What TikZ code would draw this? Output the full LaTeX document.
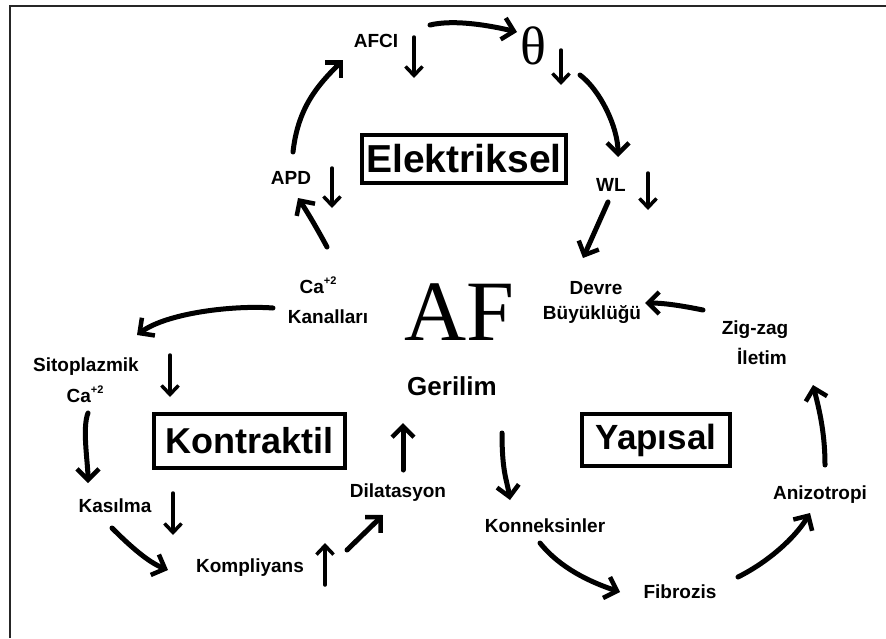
\documentclass[tikz,border=0pt]{standalone}
\usepackage{fontspec}
\setmainfont{Liberation Sans}
\newfontfamily\serifAF{Liberation Serif}
\usetikzlibrary{arrows.meta,calc}
\begin{document}
\begin{tikzpicture}[x=1pt,y=-1pt,
 lbl/.style={font=\fontsize{19}{22}\selectfont\bfseries, inner sep=0pt},
 boxlbl/.style={draw, line width=3.5pt, inner sep=0pt},
 big/.style={line width=5pt, line cap=round, -{Straight Barb[length=11pt,width=22pt,line width=4.5pt]}},
 small/.style={line width=3.5pt, line cap=round, -{Straight Barb[length=9pt,width=17pt,line width=3.5pt]}},
]
\useasboundingbox (0,0) rectangle (886,638);
\fill[white] (0,0) rectangle (886,638);
\draw[line width=2pt, black!85] (10,638) -- (10,6) -- (886,6);

% nodes
\node[lbl] (afci) at (376,41) {AFCI};
\node[inner sep=0pt, font=\serifAF\fontsize{54}{54}\selectfont] (theta) at (533,46) {θ};
\node[lbl] (wl) at (611,185) {WL};
\node[lbl] (apd) at (291,178) {APD};
\node[boxlbl, minimum width=204pt, minimum height=48pt, font=\fontsize{39}{42}\selectfont\bfseries] (elek) at (464,159) {Elektriksel};
\node[lbl] (ca1) at (318,285) {Ca\raisebox{0.45em}{\fontsize{11}{11}\selectfont +2}};
\node[lbl] (kan) at (328,317) {Kanalları};
\node[lbl] (sito) at (86,367) {Sitoplazmik};
\node[lbl] (ca2) at (85,394) {Ca\raisebox{0.45em}{\fontsize{11}{11}\selectfont +2}};
\node[boxlbl, minimum width=191pt, minimum height=54pt, font=\fontsize{36}{40}\selectfont\bfseries] (kont) at (249.5,441) {Kontraktil};
\node[lbl] (kas) at (115,506) {Kasılma};
\node[lbl] (komp) at (250,568) {Kompliyans};
\node[lbl] (dil) at (398,493) {Dilatasyon};
\node[inner sep=0pt, font=\fontsize{26}{28}\selectfont\bfseries] (geri) at (452,386) {Gerilim};
\node[inner sep=0pt, font=\serifAF\fontsize{86}{86}\selectfont] (af) at (459,312) {AF};
\node[lbl] (kon) at (545,526) {Konneksinler};
\node[lbl] (fib) at (680,592) {Fibrozis};
\node[boxlbl, minimum width=148pt, minimum height=52pt, font=\fontsize{35}{40}\selectfont\bfseries] (yap) at (656,440) {Yapısal};
\node[lbl] (ani) at (820,495) {Anizotropi};
\node[lbl] (zig) at (755,330) {Zig-zag};
\node[lbl] (ilet) at (762,356) {İletim};
\node[lbl] (devre) at (596,288) {Devre};
\node[lbl] (buy) at (592,315) {Büyüklüğü};

% connectors
\draw[big] ($(apd)+(2,-26)$) .. controls +(5,-45) and +(-25,25) .. ($(afci)+(-33,19)$);
\draw[big] ($(afci)+(54,-16)$) .. controls +(25,-6) and +(-25,-6) .. ($(theta)+(-16,-14)$);
\draw[big] ($(theta)+(47,29)$) .. controls +(20,15) and +(0,-30) .. ($(wl)+(7,-28)$);
\draw[big] ($(wl)+(-3,17)$) -- ($(devre)+(-13,-30)$);
\draw[big] ($(ca1)+(9,-38)$) .. controls +(-8,-15) and +(10,15) .. ($(apd)+(7,20)$);
\draw[big] ($(kan)+(-55,-9)$) .. controls +(-40,-3) and +(30,-22) .. ($(sito)+(51,-32)$);
\draw[big] ($(ca2)+(3,19)$) .. controls +(-6,15) and +(0,-20) .. ($(kas)+(-27,-23)$);
\draw[big] ($(kas)+(-3,22)$) .. controls +(18,18) and +(-20,-8) .. ($(komp)+(-82,2)$);
\draw[big] ($(komp)+(97,-18)$) -- ($(dil)+(-15,22)$);
\draw[big] ($(dil)+(5,-23)$) -- ($(geri)+(-49,37)$);
\draw[big] ($(geri)+(50,47)$) .. controls +(0,40) and +(-3,-20) .. ($(kon)+(-35,-26)$);
\draw[big] ($(kon)+(-5,17)$) .. controls +(20,25) and +(-30,-10) .. ($(fib)+(-60,0)$);
\draw[big] ($(fib)+(58,-15)$) .. controls +(30,-15) and +(-15,25) .. ($(ani)+(-10,18)$);
\draw[big] ($(ani)+(5,-30)$) .. controls +(0,-35) and +(5,20) .. ($(ilet)+(51,29)$);
\draw[big] ($(zig)+(-52,-20)$) .. controls +(-20,-4) and +(20,0) .. ($(buy)+(53,-12)$);

% side indicator arrows
\draw[small] ($(afci)+(38,-4)$) coordinate (afcia) -- ($(afci)+(38,37)$) coordinate (afcib);
\draw[small] ($(theta)+(28,4)$) coordinate (tha) -- ($(theta)+(28,39)$) coordinate (thb);
\draw[small] ($(wl)+(37,-12)$) coordinate (wla) -- ($(wl)+(37,25)$) coordinate (wlb);
\draw[small] ($(apd)+(41,-10)$) coordinate (apda) -- ($(apd)+(41,30)$) coordinate (apdb);
\draw[small] ($(sito)+(84,-12)$) coordinate (sitoa) -- ($(sito)+(84,30)$) coordinate (sitob);
\draw[small] ($(kas)+(58,-13)$) coordinate (kasa) -- ($(kas)+(58,29)$) coordinate (kasb);
\draw[small] ($(komp)+(75,17)$) coordinate (kompa) -- ($(komp)+(75,-25)$) coordinate (kompb);
\end{tikzpicture}
\end{document}
